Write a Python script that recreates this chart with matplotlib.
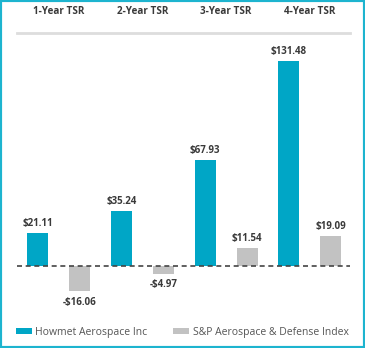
import numpy as np
import matplotlib
matplotlib.use('Agg')
import matplotlib.pyplot as plt
from matplotlib.patches import Rectangle
from matplotlib.transforms import blended_transform_factory

# data
periods = ['1-Year TSR', '2-Year TSR', '3-Year TSR', '4-Year TSR']
howmet = [21.11, 35.24, 67.93, 131.48]
sp_index = [-16.06, -4.97, 11.54, 19.09]
series_names = ['Howmet Aerospace Inc', 'S&P Aerospace & Defense Index']

teal = '#00a6c6'
grey = '#c2c2c2'
border = '#1db4cf'
label_col = '#3a3a3a'

plt.rcParams['font.family'] = ['Open Sans', 'DejaVu Sans']

W, H = 365, 348
fig = plt.figure(figsize=(W / 100, H / 100), dpi=100)
ax = fig.add_axes([17 / W, 40 / H, 333 / W, 275 / H])

x = np.arange(len(periods))
w = 0.25
b1 = ax.bar(x - 0.25, howmet, w, color=teal, label=series_names[0])
b2 = ax.bar(x + 0.25, sp_index, w, color=grey, label=series_names[1])

ax.set_xlim(-0.5, 3.48)
ax.set_ylim(-26.9, 149.4)

ax.axhline(0, color='#444444', lw=1.2, dashes=(3, 2.2))

for bars, vals in [(b1, howmet), (b2, sp_index)]:
    for r, v in zip(bars, vals):
        txt = f'${v:.2f}' if v >= 0 else f'-${-v:.2f}'
        off = 3 if v >= 0 else -4
        ax.annotate(txt, (r.get_x() + r.get_width() / 2, v),
                    xytext=(0, off), textcoords='offset points',
                    ha='center', va='bottom' if v >= 0 else 'top',
                    fontsize=7, fontweight='bold', color=label_col)

# header labels above the grey line
tr = blended_transform_factory(ax.transData, fig.transFigure)
for i, p in enumerate(periods):
    ax.text(i, 1 - 11 / H, p, transform=tr, ha='center', va='center',
            fontsize=7.1, fontweight='bold', color=label_col)

for s in ['left', 'right', 'bottom']:
    ax.spines[s].set_visible(False)
ax.spines['top'].set_color('#dddddd')
ax.spines['top'].set_linewidth(2)
ax.set_xticks([])
ax.set_yticks([])

fig.legend(loc='center left', bbox_to_anchor=(16 / W, 16 / H), ncol=2,
           frameon=False, fontsize=7.5, handlelength=1.5, handleheight=0.55,
           handletextpad=0.35, columnspacing=2.5, labelcolor='#555555',
           borderaxespad=0, borderpad=0)

fig.patches.append(Rectangle((0, 0), 1, 1, transform=fig.transFigure,
                             fill=False, edgecolor=border, lw=3))

fig.savefig('out.png', dpi=100)
